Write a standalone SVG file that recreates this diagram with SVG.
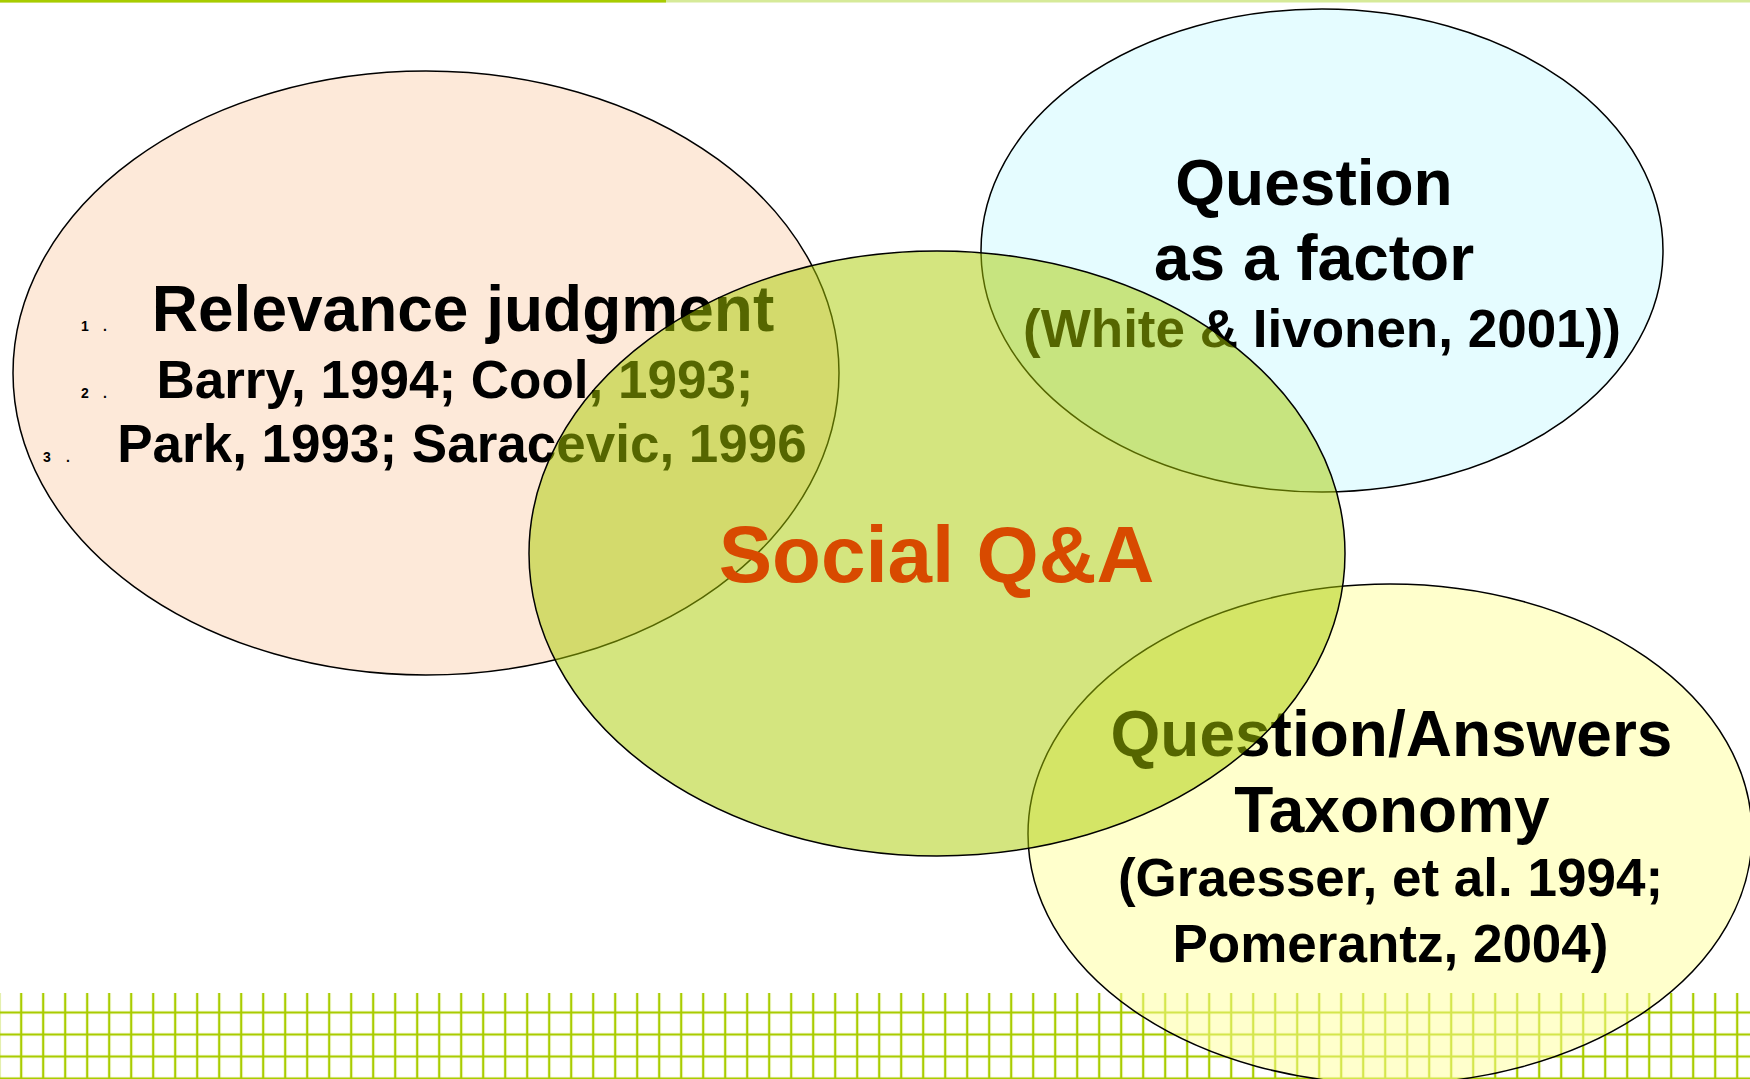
<svg xmlns="http://www.w3.org/2000/svg" width="1750" height="1079" viewBox="0 0 1750 1079">
<defs>
<style>
.t{font-family:"Liberation Sans",Arial,Helvetica,sans-serif;font-weight:bold;fill:#000;text-anchor:middle}
.big{font-size:64px}
.mid{font-size:53px}
.num{font-family:"Liberation Sans",Arial,sans-serif;font-weight:bold;font-size:14px;fill:#000}
.ell{stroke:#000;stroke-width:1.5}
</style>
<pattern id="grid" patternUnits="userSpaceOnUse" x="10.2" y="1001.5" width="22" height="22">
<rect x="9.85" y="0" width="2.3" height="22" fill="#A9CC00"/>
<rect x="0" y="9.9" width="22" height="2.2" fill="#A9CC00"/>
</pattern>
</defs>
<rect x="0" y="0" width="1750" height="1079" fill="#FFFFFF"/>
<g id="background">
<rect x="0" y="0" width="1750" height="2.5" fill="#D6EA99"/>
<rect x="0" y="0" width="666" height="2.5" fill="#A8CC00"/>
<rect x="0" y="993" width="1750" height="86" fill="url(#grid)"/>
</g>
<g id="relevance">
<ellipse class="ell" cx="426" cy="373" rx="413" ry="302" fill="#FDE9D9"/>
<text class="num" x="81" y="331">1<tspan x="103">.</tspan></text>
<text class="num" x="81" y="398">2<tspan x="103">.</tspan></text>
<text class="num" x="43" y="462">3<tspan x="66">.</tspan></text>
<text class="t big" x="463" y="331">Relevance judgment</text>
<text class="t mid" x="455" y="398">Barry, 1994; Cool, 1993;</text>
<text class="t mid" x="462" y="462">Park, 1993; Saracevic, 1996</text>
</g>
<g id="question-factor">
<ellipse class="ell" cx="1322" cy="250.5" rx="341" ry="241.5" fill="#E5FCFF"/>
<text class="t big" x="1314" y="205">Question</text>
<text class="t big" x="1314" y="280">as a factor</text>
<text class="t mid" x="1322" y="347">(White &amp; Iivonen, 2001))</text>
</g>
<g id="taxonomy">
<ellipse class="ell" cx="1390" cy="834" rx="362" ry="250" fill="#FFFF99" fill-opacity="0.5"/>
<text class="t big" x="1391.5" y="756">Question/Answers</text>
<text class="t big" x="1392" y="832">Taxonomy</text>
<text class="t mid" x="1390.5" y="896">(Graesser, et al. 1994;</text>
<text class="t mid" x="1390.5" y="962">Pomerantz, 2004)</text>
</g>
<g id="social-qa">
<ellipse class="ell" cx="937" cy="553.5" rx="408" ry="302.5" fill="#AACC00" fill-opacity="0.5"/>
<text class="t" x="936.5" y="582" style="font-size:80px;fill:#D84A00">Social Q&amp;A</text>
</g>
<g id="connectors"></g>
</svg>
